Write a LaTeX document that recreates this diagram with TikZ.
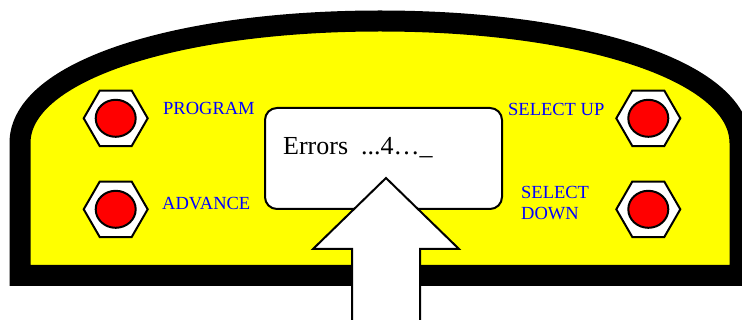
\documentclass[tikz,border=0pt]{standalone}
\usepackage{fontspec}
\setmainfont{Liberation Serif}
\usetikzlibrary{shapes.geometric}
\definecolor{panelyellow}{RGB}{255,255,0}
\definecolor{lampred}{RGB}{255,0,0}
\definecolor{lblblue}{RGB}{0,0,255}
\tikzset{
 hexbtn/.style={regular polygon,regular polygon sides=6,minimum size=64pt,inner sep=0pt,draw,line width=2pt,fill=white},
 lamp/.style={ellipse,minimum width=40pt,minimum height=37pt,inner sep=0pt,draw,line width=2pt,fill=lampred},
 lbl/.style={text=lblblue,font=\fontsize{18.5}{21}\selectfont,inner sep=0pt,anchor=base west},
}
\begin{document}
\begin{tikzpicture}[x=1pt,y=-1pt]
\useasboundingbox(0,0)rectangle(742,320);
\clip(0,0)rectangle(742,320);
\draw[line width=21pt,fill=panelyellow](20,275.5)--(20,143)..controls(20,70)and(180,21)..(380,21)..controls(580,21)and(740,70)..(740,143)--(740,275.5)--cycle;%本体
\node[hexbtn](program)at(115.7,118.3){};\node[lamp]at(program){};%左上ボタン
\node[hexbtn](advance)at(115.7,209.3){};\node[lamp]at(advance){};%左下ボタン
\node[hexbtn](selup)at(648.3,118.3){};\node[lamp]at(selup){};%右上ボタン
\node[hexbtn](seldown)at(648.3,209.3){};\node[lamp]at(seldown){};%右下ボタン
\node[lbl](programlbl)at(163,115){PROGRAM};
\node[lbl](advancelbl)at(162,210){ADVANCE};
\node[lbl](seluplbl)at(508,116){SELECT UP};
\node[lbl,anchor=west,align=left](seldownlbl)at(521,203.4){SELECT\\DOWN};
\draw[line width=2pt,fill=white,rounded corners=12pt](265,108)rectangle(502,209);%表示窓
\node[anchor=base west,inner sep=0pt,font=\fontsize{26}{30}\selectfont](errtxt)at(283,155){Errors\ \ ...4…\_};
\coordinate(tip)at(386,178);%矢印の先
\draw[line width=2pt,fill=white](352,330)--(352,249)--(313,249)--(tip)--(459,249)--(420,249)--(420,330);%矢印
\end{tikzpicture}
\end{document}
